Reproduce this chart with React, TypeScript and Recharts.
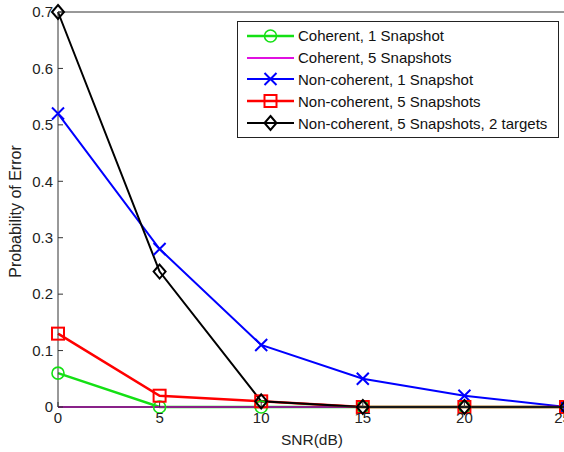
import React from "react"
import { LineChart, Line, XAxis, YAxis, Legend, Label } from "recharts"

const snr = [0, 5, 10, 15, 20, 25]
const coherent1 = [0.06, 0, 0, 0, 0, 0]
const coherent5 = [0, 0, 0, 0, 0, 0]
const nonCoherent1 = [0.52, 0.28, 0.11, 0.05, 0.02, 0]
const nonCoherent5 = [0.13, 0.02, 0.01, 0, 0, 0]
const nonCoherent5Two = [0.7, 0.24, 0.01, 0, 0, 0]

const xTicks = [0, 5, 10, 15, 20, 25]
const yTicks = [0, 0.1, 0.2, 0.3, 0.4, 0.5, 0.6, 0.7]

const data = snr.map((s, i) => ({
  snr: s,
  c1: coherent1[i],
  c5: coherent5[i],
  n1: nonCoherent1[i],
  n5: nonCoherent5[i],
  n5t: nonCoherent5Two[i],
}))

const FONT = "'Liberation Sans', Arial, sans-serif"

type Marker = "circle" | "none" | "x" | "square" | "diamond"

function markerShape(kind: Marker, cx: number, cy: number, color: string, key?: string) {
  switch (kind) {
    case "circle":
      return <circle key={key} cx={cx} cy={cy} r={6} fill="none" stroke={color} strokeWidth={1.6} />
    case "x":
      return (
        <path
          key={key}
          d={`M${cx - 6},${cy - 6}L${cx + 6},${cy + 6}M${cx - 6},${cy + 6}L${cx + 6},${cy - 6}`}
          stroke={color}
          strokeWidth={2}
          fill="none"
        />
      )
    case "square":
      return <rect key={key} x={cx - 6} y={cy - 6} width={12} height={12} fill="none" stroke={color} strokeWidth={2} />
    case "diamond":
      return (
        <path
          key={key}
          d={`M${cx},${cy - 7}L${cx + 6},${cy}L${cx},${cy + 7}L${cx - 6},${cy}Z`}
          fill="none"
          stroke={color}
          strokeWidth={2}
        />
      )
    default:
      return <g key={key} />
  }
}

const series: { key: string; name: string; color: string; width: number; marker: Marker }[] = [
  { key: "c1", name: "Coherent, 1 Snapshot", color: "#14e014", width: 2.5, marker: "circle" },
  { key: "c5", name: "Coherent, 5 Snapshots", color: "#e010e0", width: 2, marker: "none" },
  { key: "n1", name: "Non-coherent, 1 Snapshot", color: "#0000ff", width: 2, marker: "x" },
  { key: "n5", name: "Non-coherent, 5 Snapshots", color: "#ff0000", width: 2.5, marker: "square" },
  { key: "n5t", name: "Non-coherent, 5 Snapshots, 2 targets", color: "#000000", width: 2, marker: "diamond" },
]

function renderLegend(props: any) {
  const items = props.payload || []
  return (
    <div
      style={{
        border: "1px solid #222",
        background: "#fff",
        padding: "3px 0",
        fontFamily: FONT,
        fontSize: 15,
        color: "#111",
      }}
    >
      {items.map((it: any) => {
        const s = series.find((d) => d.key === it.dataKey)
        if (!s) return null
        return (
          <div key={s.key} style={{ display: "flex", alignItems: "center", height: 21.8 }}>
            <svg width={60} height={20} style={{ flex: "none" }}>
              <line x1={9} y1={10} x2={56} y2={10} stroke={s.color} strokeWidth={s.width} />
              {markerShape(s.marker, 32.5, 10, s.color)}
            </svg>
            <span style={{ whiteSpace: "nowrap" }}>{s.name}</span>
          </div>
        )
      })}
    </div>
  )
}

export default function App() {
  return (
    <div style={{ position: "absolute", left: 0, top: 0, width: 564, height: 452, overflow: "hidden", background: "#fff" }}>
      <LineChart width={570} height={452} data={data} margin={{ top: 11, right: 3, bottom: 0, left: 0 }}>
        <XAxis
          dataKey="snr"
          type="number"
          domain={[0, 25]}
          ticks={xTicks}
          height={45}
          stroke="#333"
          tickSize={-5}
          tickMargin={10}
          tick={{ fill: "#222", fontSize: 15, fontFamily: FONT }}
        >
          <Label value="SNR(dB)" position="center" dy={10} style={{ fill: "#222", fontSize: 15.5, fontFamily: FONT }} />
        </XAxis>
        <XAxis
          xAxisId="top"
          dataKey="snr"
          type="number"
          orientation="top"
          domain={[0, 25]}
          ticks={xTicks}
          height={1}
          stroke="#333"
          tickSize={-5}
          tick={false}
        />
        <YAxis
          type="number"
          domain={[0, 0.7]}
          ticks={yTicks}
          width={58}
          stroke="#333"
          tickSize={-5}
          tickMargin={10}
          tickFormatter={(v: number) => (v === 0 ? "0" : v.toFixed(1))}
          tick={{ fill: "#222", fontSize: 15, fontFamily: FONT }}
        >
          <Label
            value="Probability of Error"
            position="center"
            angle={-90}
            dx={-14}
            dy={2}
            style={{ fill: "#222", fontSize: 16, fontFamily: FONT, textAnchor: "middle" }}
          />
        </YAxis>
        <YAxis
          yAxisId="right"
          type="number"
          orientation="right"
          domain={[0, 0.7]}
          ticks={yTicks}
          width={1}
          stroke="#333"
          tickSize={-5}
          tick={false}
        />
        <Legend
          layout="vertical"
          align="center"
          verticalAlign="middle"
          content={renderLegend}
          wrapperStyle={{ left: 237, top: 21, width: 322 }}
        />
        {series.map((s) => (
          <Line
            key={s.key}
            dataKey={s.key}
            name={s.name}
            stroke={s.color}
            strokeWidth={s.width}
            isAnimationActive={false}
            activeDot={false}
            dot={(p: any) => markerShape(s.marker, p.cx, p.cy, s.color, `${s.key}-${p.index}`)}
          />
        ))}
      </LineChart>
    </div>
  )
}
